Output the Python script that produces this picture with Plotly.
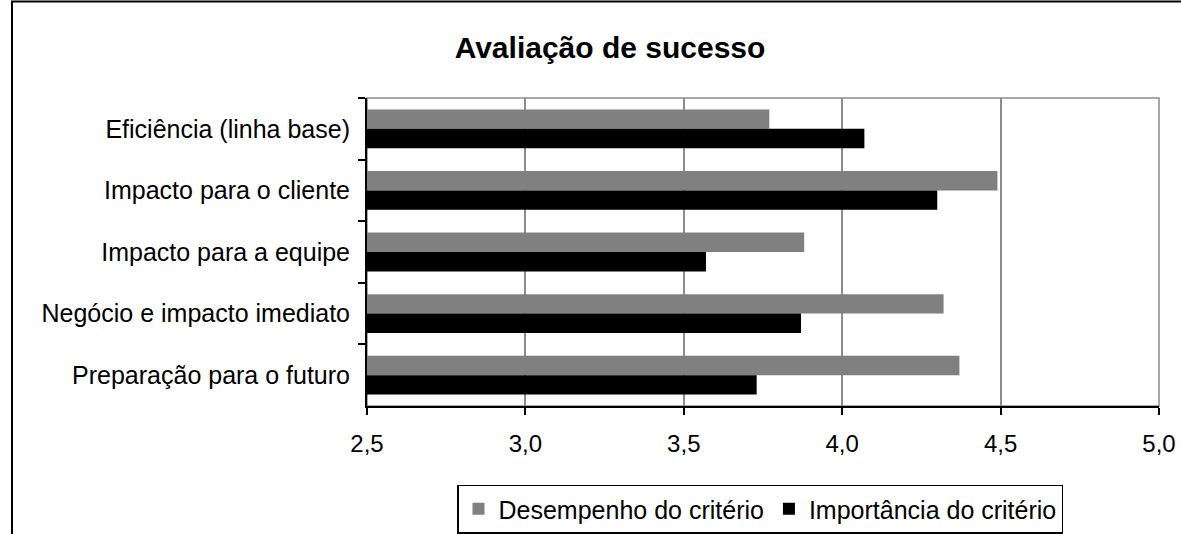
import plotly.graph_objects as go

categories = [
    "Eficiência (linha base)",
    "Impacto para o cliente",
    "Impacto para a equipe",
    "Negócio e impacto imediato",
    "Preparação para o futuro",
]
desempenho = [3.77, 4.49, 3.88, 4.32, 4.37]
importancia = [4.07, 4.30, 3.57, 3.87, 3.73]
series_names = ["Desempenho do critério", "Importância do critério"]
x_ticks = [2.5, 3.0, 3.5, 4.0, 4.5, 5.0]

FONT = "Arial, 'Liberation Sans', sans-serif"
W, H = 1181, 534
L, R, T, B = 367, 22, 98, 128
pw, ph = W - L - R, H - T - B

def px_to_paper_x(px):
    return (px - L) / pw

def px_to_paper_y(py):
    return (H - B - py) / ph

fig = go.Figure()
fig.add_trace(go.Bar(y=categories, x=desempenho, orientation="h",
                     name=series_names[0], marker=dict(color="#808080", line=dict(width=0)),
                     base=0))
fig.add_trace(go.Bar(y=categories, x=importancia, orientation="h",
                     name=series_names[1], marker=dict(color="#000000", line=dict(width=0)),
                     base=0))

fig.update_layout(
    width=W, height=H,
    margin=dict(l=L, r=R, t=T, b=B, autoexpand=False),
    paper_bgcolor="white", plot_bgcolor="white",
    barmode="group", bargap=0.37, bargroupgap=0,
    separators=", ",
    font=dict(family=FONT, size=25, color="black"),
    title=dict(text="<b>Avaliação de sucesso</b>", xref="container", yref="container",
               x=610 / W, y=1 - 47 / H, xanchor="center", yanchor="middle",
               font=dict(family=FONT, size=30, color="black")),
    xaxis=dict(range=[2.5, 5.0], tickvals=x_ticks, tickformat=".1f",
               showgrid=True, gridcolor="#8c8c8c", gridwidth=1.5,
               showline=True, linecolor="black", linewidth=2,
               ticks="outside", ticklen=7, tickcolor="black", tickwidth=2,
               ticklabelstandoff=8, zeroline=False, automargin=False,
               tickfont=dict(family=FONT, size=24)),
    yaxis=dict(type="category", categoryorder="array", categoryarray=categories,
               autorange="reversed", showgrid=False,
               showline=True, linecolor="black", linewidth=2,
               ticks="outside", ticklen=7, tickcolor="black", tickwidth=2,
               tickson="boundaries", ticklabelstandoff=10, automargin=False,
               tickfont=dict(family=FONT, size=25)),
    legend=dict(orientation="h", xref="container", yref="container",
                x=760 / W, y=1 - 509 / H,
                xanchor="center", yanchor="middle",
                bordercolor="black", borderwidth=1.5, bgcolor="white",
                font=dict(family=FONT, size=25), itemwidth=30,
                traceorder="normal"),
    showlegend=True,
)

# gray plot-area frame (top & right)
fig.add_shape(type="rect", xref="x domain", yref="y domain", x0=0, x1=1, y0=0, y1=1,
              line=dict(color="#8c8c8c", width=1.5), layer="below")
# outer chart frame
fig.add_shape(type="rect", xref="paper", yref="paper",
              x0=px_to_paper_x(12), x1=px_to_paper_x(1195),
              y0=px_to_paper_y(545), y1=px_to_paper_y(1.5),
              line=dict(color="black", width=2), layer="above")

fig.write_html("out.html", config={"displayModeBar": False},
               post_script="document.body.style.margin='0';document.body.style.overflow='hidden';")
